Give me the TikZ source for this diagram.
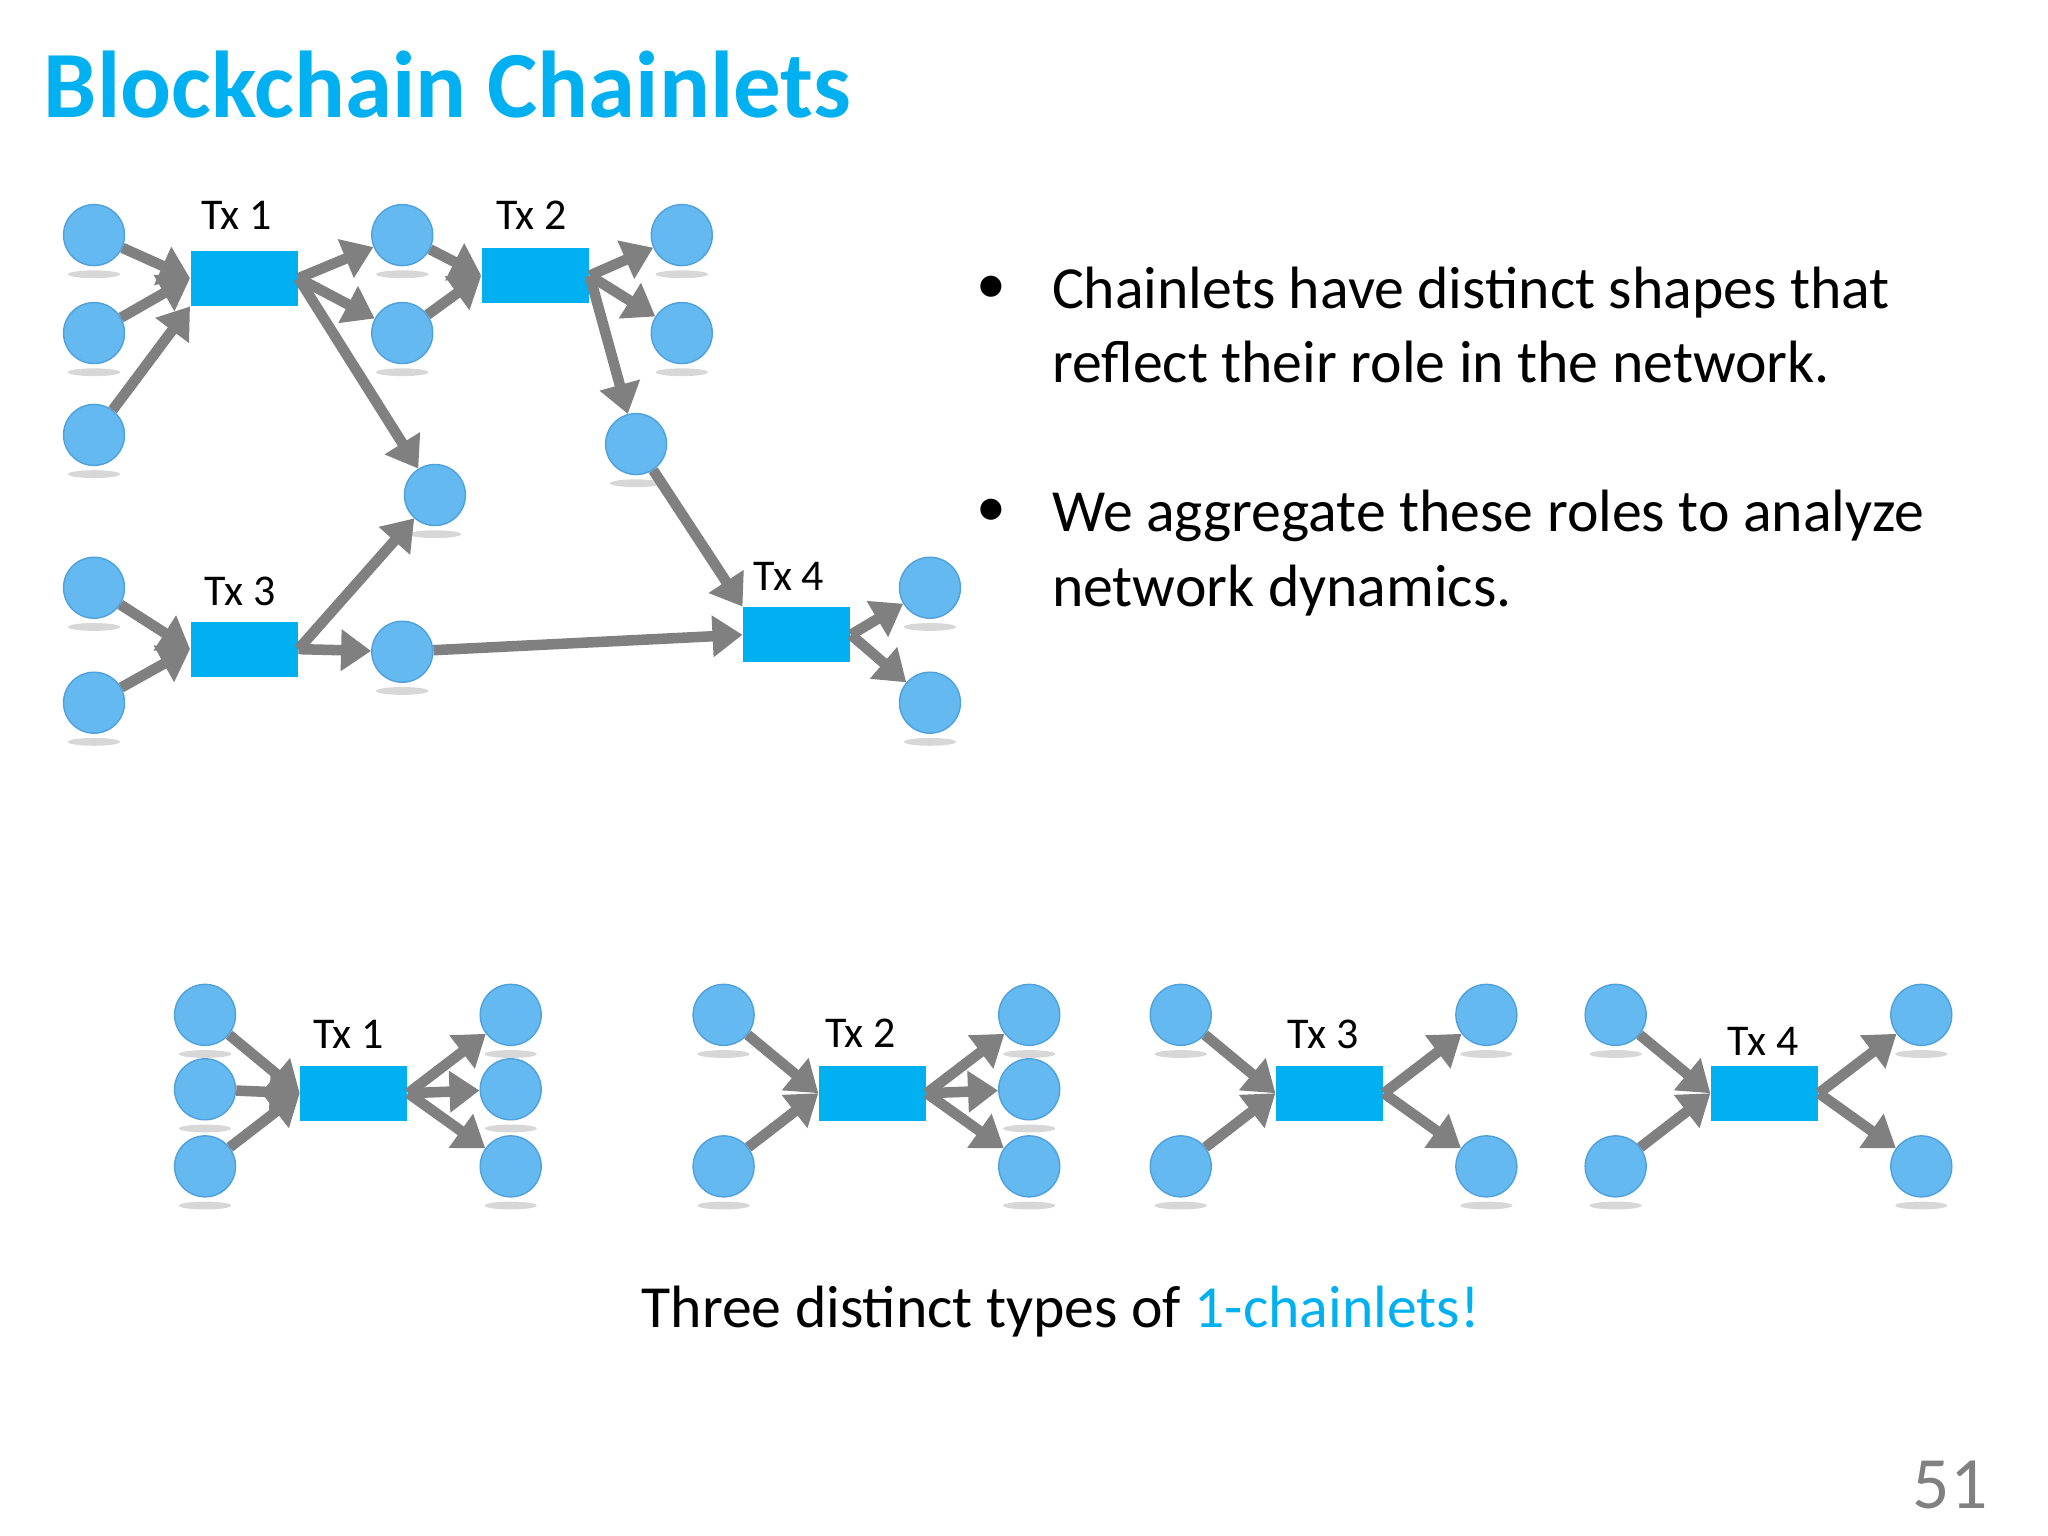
\documentclass[tikz,border=0pt]{standalone}
\usepackage{fontspec}
\setmainfont{Carlito}
\usetikzlibrary{arrows.meta}
\definecolor{titleblue}{RGB}{0,176,240}
\definecolor{circ}{RGB}{100,185,240}
\definecolor{circb}{RGB}{80,160,220}
\definecolor{arr}{RGB}{128,128,128}
\definecolor{shad}{RGB}{215,215,215}
\begin{document}
\begin{tikzpicture}[x=0.013061cm,y=-0.013061cm,
  c/.style={circle,fill=circ,draw=circb,line width=0.4pt,minimum size=0.61cm,inner sep=0pt},
  tx/.style={rectangle,fill=titleblue,minimum width=1.07cm,minimum height=0.55cm,inner sep=0pt},
  lab/.style={font=\fontsize{12.5}{14}\selectfont},
  a/.style={draw=arr,line width=3pt,-{Triangle[length=0.3cm,width=0.4cm]},shorten >=0pt,shorten <=0pt}]
\useasboundingbox (0,0) rectangle (1568,1176);
\node[anchor=west,font=\fontsize{27}{32}\selectfont\bfseries,text=titleblue] (title) at (24,65) {Blockchain Chainlets};
\def\cn#1#2#3{\fill[shad] (#2+0,#3+30) ellipse (20 and 3); \node[c] (#1) at (#2,#3) {};}
% top graph
\node[tx] (t1) at (187,213) {}; \node[tx] (t2) at (410,211) {};
\node[tx] (t3) at (187,497) {}; \node[tx] (t4) at (610,486) {};
\node[lab] (l1) at (181,165) {Tx 1}; \node[lab] (l2) at (407,165) {Tx 2};
\node[lab] (l3) at (184,453) {Tx 3}; \node[lab] (l4) at (604,441) {Tx 4};
\cn{a1}{72}{180}\cn{a2}{72}{255}\cn{a3}{72}{333}
\cn{b1}{308}{180}\cn{b2}{308}{255}
\cn{c1}{522}{180}\cn{c2}{522}{255}
\cn{d}{487}{340}\cn{e}{333}{379}
\cn{f1}{72}{450}\cn{f2}{72}{538}
\cn{g}{308}{499}
\cn{h1}{712}{450}\cn{h2}{712}{538}
\foreach \s/\t in {a1/t1.west,a2/t1.west,b1/t2.west,b2/t2.west,f1/t3.west,f2/t3.west,g/t4.west}
  \draw[a] (\s) -- (\t);
\draw[a] (a3) -- (t1.south west);
\draw[a] (d) -- (t4.north west);
\foreach \s/\t in {t1.east/b1,t1.east/b2,t1.east/e,t2.east/c1,t2.east/c2,t2.east/d,t3.east/e,t3.east/g,t4.east/h1,t4.east/h2}
  \draw[a] (\s) -- (\t);
% bullets
\begin{scope}[font=\fontsize{17}{21}\selectfont]
\node[anchor=base] (bu1) at (759,232) {•};
\node[anchor=base west] (p1) at (796,236) {Chainlets have distinct shapes that};
\node[anchor=base west] (p1b) at (796,293) {reflect their role in the network.};
\node[anchor=base] (bu2) at (759,403) {•};
\node[anchor=base west] (p2) at (796,407) {We aggregate these roles to analyze};
\node[anchor=base west] (p2b) at (796,464) {network dynamics.};
\node (cap) at (812,1004) {Three distinct types of \textcolor{titleblue}{1-chainlets!}};
\end{scope}
% bottom
\node[tx] (u1) at (271,837) {}; \node[lab] (m1) at (267,792) {Tx 1};
\cn{u1l1}{157}{777}\cn{u1l2}{157}{834}\cn{u1l3}{157}{893}
\cn{u1r1}{391}{777}\cn{u1r2}{391}{834}\cn{u1r3}{391}{893}
\node[tx] (u2) at (668,837) {}; \node[lab] (m2) at (659,791) {Tx 2};
\cn{u2l1}{554}{777}\cn{u2l2}{554}{893}
\cn{u2r1}{788}{777}\cn{u2r2}{788}{834}\cn{u2r3}{788}{893}
\node[tx] (u3) at (1018,837) {}; \node[lab] (m3) at (1013,792) {Tx 3};
\cn{u3l1}{904}{777}\cn{u3l2}{904}{893}
\cn{u3r1}{1138}{777}\cn{u3r2}{1138}{893}
\node[tx] (u4) at (1351,837) {}; \node[lab] (m4) at (1350,797) {Tx 4};
\cn{u4l1}{1237}{777}\cn{u4l2}{1237}{893}
\cn{u4r1}{1471}{777}\cn{u4r2}{1471}{893}
\foreach \s/\t in {u1l1/u1.west,u1l2/u1.west,u1l3/u1.west,u2l1/u2.west,u2l2/u2.west,u3l1/u3.west,u3l2/u3.west,u4l1/u4.west,u4l2/u4.west}
  \draw[a] (\s) -- (\t);
\foreach \s/\t in {u1.east/u1r1,u1.east/u1r2,u1.east/u1r3,u2.east/u2r1,u2.east/u2r2,u2.east/u2r3,u3.east/u3r1,u3.east/u3r2,u4.east/u4r1,u4.east/u4r2}
  \draw[a] (\s) -- (\t);
\node[text=arr,font=\fontsize{21}{24}\selectfont] (pg) at (1493,1137) {51};
\end{tikzpicture}
\end{document}
